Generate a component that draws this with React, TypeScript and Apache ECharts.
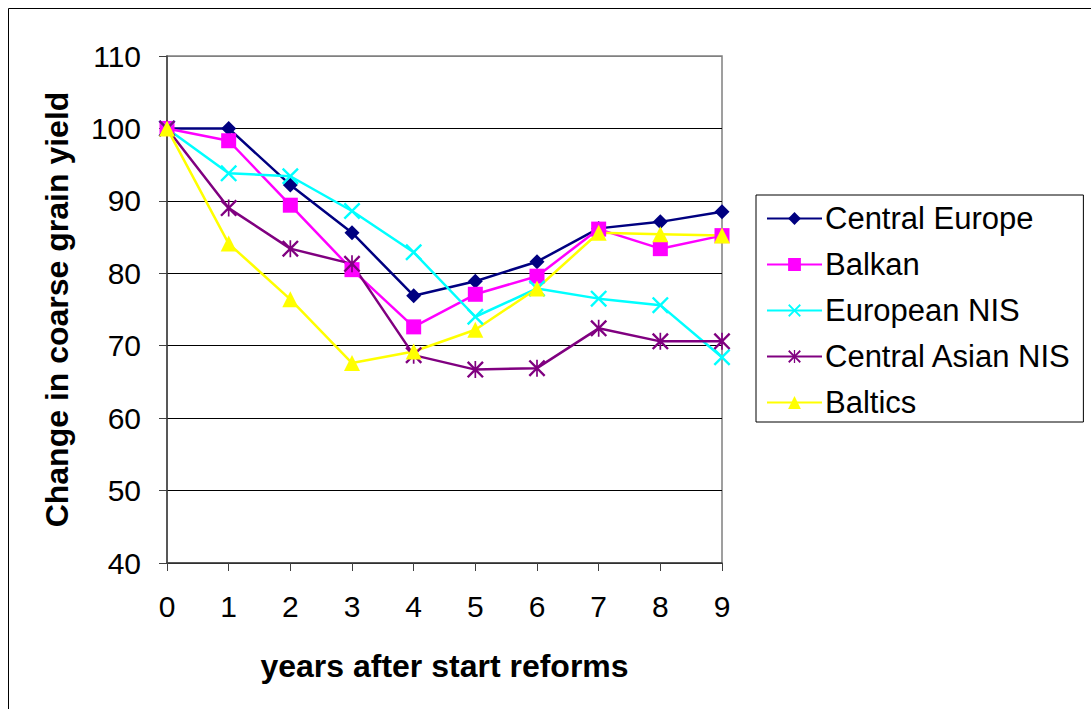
import React, { useEffect, useRef } from "react";
import * as echarts from "echarts";

const years = ["0", "1", "2", "3", "4", "5", "6", "7", "8", "9"];
const centralEurope = [100, 100, 92.2, 85.6, 76.9, 78.9, 81.6, 86.2, 87.1, 88.5];
const balkan = [100, 98.3, 89.4, 80.5, 72.6, 77.1, 79.6, 86.1, 83.4, 85.2];
const europeanNIS = [100, 93.8, 93.4, 88.6, 82.9, 74.0, 77.9, 76.5, 75.6, 68.4];
const centralAsianNIS = [100, 89.0, 83.4, 81.3, 68.7, 66.7, 66.9, 72.4, 70.6, 70.6];
const baltics = [100, 84.1, 76.4, 67.6, 69.2, 72.2, 77.9, 85.6, 85.4, 85.2];

const seriesNames = ["Central Europe", "Balkan", "European NIS", "Central Asian NIS", "Baltics"];
const yTicks = [40, 110, 10];

const xSymbol =
  "path://M0,2L2,0L10,8L18,0L20,2L12,10L20,18L18,20L10,12L2,20L0,18L8,10Z";
const starSymbol =
  "path://M0,2L2,0L10,8L18,0L20,2L12,10L20,18L18,20L10,12L2,20L0,18L8,10ZM9,0L11,0L11,20L9,20Z";

const FONT = "'Liberation Sans', Arial, sans-serif";

export default function App() {
  const ref = useRef<HTMLDivElement>(null);
  useEffect(() => {
    if (!ref.current) return;
    const chart = echarts.init(ref.current, undefined, { renderer: "svg" });
    const mk = (name: string, data: number[], color: string, symbol: string, size: number) => ({
      name,
      type: "line",
      data,
      symbol,
      symbolSize: size,
      showAllSymbol: true,
      lineStyle: { color, width: 2.5 },
      itemStyle: { color, borderColor: color, borderWidth: 0 },
      emphasis: { disabled: true },
    });
    chart.setOption({
      animation: false,
      backgroundColor: "#ffffff",
      textStyle: { fontFamily: FONT },
      graphic: [
        {
          type: "rect",
          shape: { x: 8.5, y: 8.5, width: 1100, height: 720 },
          style: { fill: "none", stroke: "#000", lineWidth: 1 },
          silent: true,
        },
      ],
      grid: {
        left: 167,
        right: 369,
        top: 56,
        bottom: 146,
        show: true,
        borderColor: "#808080",
        borderWidth: 1.5,
      },
      legend: {
        orient: "vertical",
        left: 756,
        top: 195,
        data: seriesNames,
        itemWidth: 55,
        itemHeight: 16,
        itemGap: 15,
        padding: [8, 12, 4, 10],
        borderColor: "#000",
        borderWidth: 1,
        textStyle: { fontSize: 31, color: "#000", fontFamily: FONT, lineHeight: 31, padding: [0, 0, 0, -2] },
      },
      xAxis: {
        type: "category",
        data: years,
        boundaryGap: false,
        name: "years after start reforms",
        nameLocation: "middle",
        nameGap: 87,
        nameTextStyle: { fontSize: 32, fontWeight: "bold", color: "#000", fontFamily: FONT },
        axisLine: { lineStyle: { color: "#404040", width: 1.5 } },
        axisTick: { show: true, alignWithLabel: true, length: 8, lineStyle: { color: "#404040" } },
        axisLabel: { fontSize: 30, color: "#000", margin: 28, fontFamily: FONT },
        splitLine: { show: false },
      },
      yAxis: {
        type: "value",
        min: yTicks[0],
        max: yTicks[1],
        interval: yTicks[2],
        name: "Change in coarse grain yield",
        nameLocation: "middle",
        nameGap: 94,
        nameTextStyle: { fontSize: 32, fontWeight: "bold", color: "#000", fontFamily: FONT },
        axisLine: { show: true, lineStyle: { color: "#404040", width: 1.5 } },
        axisTick: { show: true, length: 8, lineStyle: { color: "#404040" } },
        axisLabel: { fontSize: 30, color: "#000", margin: 26, fontFamily: FONT },
        splitLine: {
          show: true,
          lineStyle: {
            color: ["#000", "#000", "#000", "#000", "#000", "#000", "#000", "#808080"],
            width: 1,
          },
        },
      },
      series: [
        mk(seriesNames[0], centralEurope, "#000080", "diamond", 15),
        mk(seriesNames[1], balkan, "#FF00FF", "rect", 15),
        mk(seriesNames[2], europeanNIS, "#00FFFF", xSymbol, 17),
        mk(seriesNames[3], centralAsianNIS, "#800080", starSymbol, 17),
        mk(seriesNames[4], baltics, "#FFFF00", "triangle", 16),
      ],
    });
    return () => chart.dispose();
  }, []);
  return (
    <div
      ref={ref}
      style={{ position: "absolute", left: 0, top: 0, width: 1091, height: 709, background: "#fff" }}
    />
  );
}
